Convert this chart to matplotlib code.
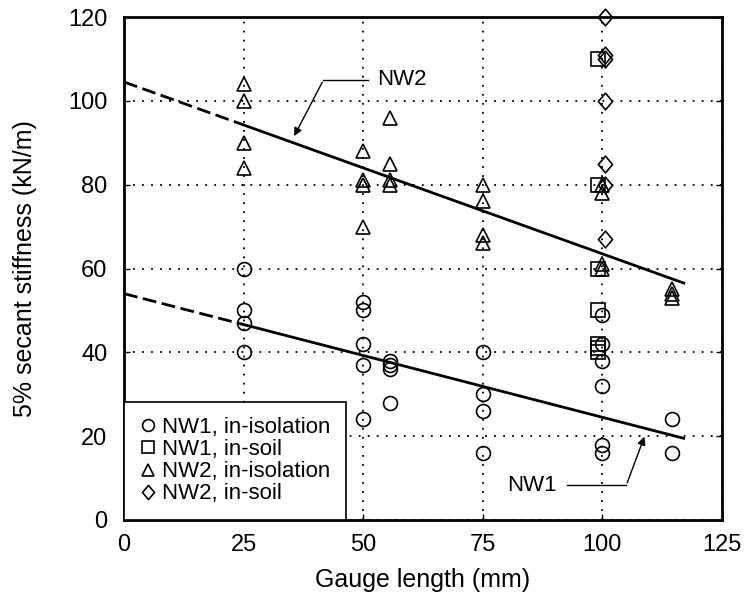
import numpy as np
import matplotlib
matplotlib.use("Agg")
from matplotlib import pyplot as plt
from matplotlib.path import Path

plt.rcParams['font.family'] = ['Liberation Sans', 'DejaVu Sans']

# NW1, in-isolation (circles)
nw1_iso_x = [25, 25, 25, 25, 50, 50, 50, 50, 50, 55.5, 55.5, 55.5, 55.5,
             75, 75, 75, 75, 100, 100, 100, 100, 100, 100, 114.5, 114.5]
nw1_iso_y = [60, 50, 47, 40, 52, 50, 42, 37, 24, 38, 37, 36, 28,
             40, 30, 26, 16, 49, 42, 38, 32, 18, 16, 24, 16]

# NW1, in-soil (squares)
nw1_soil_x = [99, 99, 99, 99, 99, 99, 99]
nw1_soil_y = [110, 80, 60, 50, 42, 41, 40]

# NW2, in-isolation (triangles)
nw2_iso_x = [25, 25, 25, 25, 50, 50, 50, 50, 55.5, 55.5, 55.5, 55.5,
             75, 75, 75, 75, 100, 100, 100, 100, 114.5, 114.5, 114.5]
nw2_iso_y = [104, 100, 90, 84, 88, 81, 80, 70, 96, 85, 81, 80,
             80, 76, 68, 66, 80, 78, 61, 60, 55, 54, 53]

# NW2, in-soil (diamonds)
nw2_soil_x = [100.5, 100.5, 100.5, 100.5, 100.5, 100.5, 100.5]
nw2_soil_y = [120, 111, 110, 100, 85, 80, 67]

# linear fits: (intercept, slope)
nw1_fit = (54.0, -0.295)
nw2_fit = (104.5, -0.41)
fit_x_dash = [0, 25]
fit_x_solid = [25, 117]

# slightly narrow diamond like the original
diamond = Path([(0, 1), (0.85, 0), (0, -1), (-0.85, 0), (0, 1)],
               [Path.MOVETO, Path.LINETO, Path.LINETO, Path.LINETO, Path.CLOSEPOLY])

fig = plt.figure(figsize=(7.48, 5.97), dpi=100)
ax = fig.add_axes([0.1658, 0.129, 0.7994, 0.8425])

mk = dict(linestyle='none', markerfacecolor='none', markeredgecolor='black',
          markeredgewidth=1.2, clip_on=False)
ax.plot(nw1_iso_x, nw1_iso_y, marker='o', markersize=10, label='NW1, in-isolation', **mk)
ax.plot(nw1_soil_x, nw1_soil_y, marker='s', markersize=9.5, label='NW1, in-soil', **mk)
ax.plot(nw2_iso_x, nw2_iso_y, marker='^', markersize=10, label='NW2, in-isolation', **mk)
ax.plot(nw2_soil_x, nw2_soil_y, marker=diamond, markersize=12, label='NW2, in-soil', **mk)

for b0, b1 in [nw1_fit, nw2_fit]:
    xd = np.array(fit_x_dash)
    xs = np.array(fit_x_solid)
    ax.plot(xd, b0 + b1 * xd, color='black', linestyle=(0, (5, 2)), linewidth=2)
    ax.plot(xs, b0 + b1 * xs, color='black', linestyle='-', linewidth=2)

# callouts
ax.plot([51, 41.7], [105, 105], color='black', linewidth=1)
ax.annotate('', xy=(35.3, 91.0), xytext=(41.7, 105),
            arrowprops=dict(arrowstyle='-|>', color='black', lw=1, mutation_scale=12))
ax.text(53, 105, 'NW2', fontsize=16, va='center', ha='left')

ax.plot([92.5, 105], [8.3, 8.3], color='black', linewidth=1)
ax.annotate('', xy=(109, 20.5), xytext=(105, 8.3),
            arrowprops=dict(arrowstyle='-|>', color='black', lw=1, mutation_scale=12))
ax.text(90.5, 8.3, 'NW1', fontsize=16, va='center', ha='right')

ax.set_xlim(0, 125)
ax.set_ylim(0, 120)
ax.set_xticks([0, 25, 50, 75, 100, 125])
ax.set_yticks([0, 20, 40, 60, 80, 100, 120])
ax.tick_params(direction='in', labelsize=17, length=4, width=1, right=True)
ax.tick_params(axis='y', pad=12)
ax.tick_params(axis='x', pad=10)
ax.grid(True, color='black', linestyle=(0, (1, 4)), linewidth=1.3)
for s in ax.spines.values():
    s.set_linewidth(2)

ax.set_xlabel('Gauge length (mm)', fontsize=18, labelpad=9)
ax.set_ylabel('5% secant stiffness (kN/m)', fontsize=18, labelpad=22)

leg = ax.legend(loc='lower left', borderaxespad=0, fontsize=16, frameon=True,
                fancybox=False, edgecolor='black', framealpha=1,
                handlelength=0.8, handletextpad=0.2, labelspacing=0.05,
                borderpad=0.7, markerscale=0.85)
leg.get_frame().set_linewidth(1.2)

fig.savefig('out.png', dpi=100)
